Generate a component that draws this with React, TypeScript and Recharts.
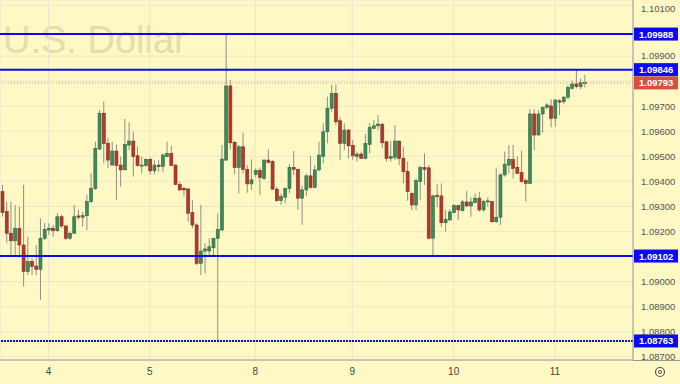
import { ComposedChart, Bar, XAxis, YAxis, CartesianGrid, ReferenceLine } from 'recharts'

// hourly EUR/USD-style candles
const opens = [
  1.09359, 1.09279, 1.09193, 1.09163, 1.09213, 1.09146, 1.0904, 1.0908, 1.09062, 1.09049,
  1.09173, 1.09206, 1.09213, 1.09203, 1.09259, 1.09222, 1.09173, 1.09193, 1.09262, 1.09257,
  1.09263, 1.09319, 1.09372, 1.09529, 1.09672, 1.09552, 1.09465, 1.09521, 1.09465, 1.09446,
  1.09545, 1.09561, 1.09502, 1.09461, 1.09463, 1.09488, 1.09442, 1.09465, 1.09459, 1.09499,
  1.09512, 1.09465, 1.09388, 1.09372, 1.0937, 1.09275, 1.09226, 1.09073, 1.09122, 1.09122,
  1.09135, 1.09173, 1.09206, 1.09485, 1.09781, 1.09556, 1.09455, 1.09538, 1.09448, 1.0939,
  1.09428, 1.09443, 1.09412, 1.09485, 1.09479, 1.09369, 1.09323, 1.09337, 1.09372, 1.09456,
  1.09448, 1.09333, 1.09366, 1.09422, 1.09376, 1.09446, 1.09499, 1.09598, 1.09692, 1.09751,
  1.09642, 1.09552, 1.09605, 1.09544, 1.09499, 1.09509, 1.09492, 1.09548, 1.09612, 1.09622,
  1.09628, 1.09558, 1.09492, 1.09496, 1.09561, 1.09492, 1.09439, 1.09352, 1.09306, 1.09399,
  1.09455, 1.09454, 1.09173, 1.09344, 1.09342, 1.09235, 1.09246, 1.09275, 1.09303, 1.09283,
  1.09318, 1.09302, 1.09315, 1.09333, 1.09286, 1.09318, 1.09319, 1.09239, 1.09257, 1.09426,
  1.09465, 1.09488, 1.09456, 1.09435, 1.09403, 1.09392, 1.09669, 1.09585, 1.09669, 1.09696,
  1.09701, 1.09652, 1.09722, 1.09718, 1.09736, 1.09771, 1.09789, 1.09778, 1.09795,
]
const highs = [
  1.09386, 1.09319, 1.09319, 1.09306, 1.09299, 1.09386, 1.09179, 1.09093, 1.09146, 1.09253,
  1.09233, 1.09233, 1.09226, 1.09273, 1.09266, 1.09226, 1.09199, 1.09306, 1.09286, 1.09279,
  1.09346, 1.09432, 1.09558, 1.09685, 1.09718, 1.09574, 1.09558, 1.09548, 1.09499, 1.09649,
  1.09636, 1.09598, 1.09538, 1.09499, 1.09492, 1.09495, 1.09485, 1.09485, 1.09512, 1.09558,
  1.09542, 1.09468, 1.09399, 1.09379, 1.09372, 1.09326, 1.09233, 1.09306, 1.09153, 1.09173,
  1.09175, 1.09273, 1.09545, 1.09988, 1.09805, 1.09561, 1.09545, 1.09594, 1.09465, 1.09488,
  1.09452, 1.09456, 1.09488, 1.09528, 1.09485, 1.09379, 1.09352, 1.09376, 1.09469, 1.09521,
  1.09452, 1.09383, 1.0943, 1.09502, 1.09465, 1.09558, 1.09632, 1.09738, 1.09785, 1.09785,
  1.09656, 1.09632, 1.09608, 1.09565, 1.09519, 1.09519, 1.09589, 1.09632, 1.09645, 1.09665,
  1.09634, 1.09562, 1.09561, 1.09625, 1.09561, 1.09538, 1.09479, 1.09359, 1.09412, 1.09461,
  1.09512, 1.09465, 1.09346, 1.09388, 1.09392, 1.09286, 1.09289, 1.0931, 1.09306, 1.09326,
  1.09362, 1.09337, 1.09352, 1.09359, 1.09326, 1.09337, 1.09322, 1.09452, 1.09432, 1.09519,
  1.09545, 1.09545, 1.09499, 1.09523, 1.09412, 1.09688, 1.09688, 1.09685, 1.09698, 1.09712,
  1.09728, 1.09728, 1.09728, 1.09741, 1.09785, 1.09802, 1.09846, 1.09811, 1.09825,
]
const lows = [
  1.09259, 1.09153, 1.09099, 1.09099, 1.09097, 1.0898, 1.09026, 1.09026, 1.09026, 1.08927,
  1.09166, 1.09186, 1.09179, 1.09199, 1.09213, 1.09166, 1.09166, 1.0919, 1.09246, 1.09219,
  1.09206, 1.09313, 1.09366, 1.09525, 1.09472, 1.09452, 1.09465, 1.09326, 1.09379, 1.09446,
  1.09525, 1.09419, 1.09459, 1.09432, 1.09459, 1.09426, 1.09428, 1.09439, 1.09439, 1.09499,
  1.09463, 1.09386, 1.09362, 1.09339, 1.09239, 1.09213, 1.09066, 1.09026, 1.09033, 1.09099,
  1.09106, 1.08763, 1.09202, 1.09481, 1.09528, 1.09428, 1.09352, 1.09432, 1.09355, 1.09366,
  1.09416, 1.09346, 1.09406, 1.09472, 1.09366, 1.09319, 1.09306, 1.09313, 1.09352, 1.09426,
  1.09286, 1.09226, 1.09342, 1.09372, 1.09372, 1.09439, 1.09472, 1.09552, 1.09678, 1.09625,
  1.09485, 1.09525, 1.09492, 1.09485, 1.09479, 1.09492, 1.09488, 1.09512, 1.09608, 1.09605,
  1.09532, 1.09479, 1.09479, 1.09485, 1.09465, 1.09392, 1.09323, 1.09286, 1.09286, 1.09326,
  1.09386, 1.09169, 1.09099, 1.09297, 1.09217, 1.09199, 1.09243, 1.09273, 1.09246, 1.09279,
  1.09299, 1.09259, 1.09313, 1.09279, 1.09279, 1.09299, 1.09235, 1.09235, 1.09226, 1.09419,
  1.09432, 1.09412, 1.0943, 1.09395, 1.09319, 1.0939, 1.09525, 1.09585, 1.09594, 1.09688,
  1.09616, 1.09618, 1.09665, 1.09709, 1.09728, 1.09767, 1.09771, 1.09767, 1.09775,
]
const closes = [
  1.09275, 1.09193, 1.09163, 1.09213, 1.09146, 1.0904, 1.0908, 1.0906, 1.09049, 1.09173,
  1.09209, 1.09213, 1.09203, 1.09259, 1.09222, 1.09173, 1.09193, 1.09259, 1.09257, 1.09263,
  1.09319, 1.09372, 1.09532, 1.09672, 1.09552, 1.09485, 1.09521, 1.09463, 1.09446, 1.09548,
  1.09561, 1.09499, 1.09463, 1.09465, 1.09488, 1.09442, 1.09465, 1.09459, 1.09505, 1.09512,
  1.09463, 1.09388, 1.09366, 1.09366, 1.09273, 1.09226, 1.09073, 1.09122, 1.0913, 1.09139,
  1.09173, 1.09209, 1.09489, 1.09781, 1.09554, 1.09455, 1.09538, 1.09448, 1.0939, 1.09406,
  1.09443, 1.09415, 1.09485, 1.09476, 1.09369, 1.09323, 1.09339, 1.09372, 1.09456, 1.09448,
  1.09333, 1.09366, 1.09422, 1.09376, 1.09446, 1.09505, 1.09598, 1.09692, 1.09751, 1.09638,
  1.09552, 1.09605, 1.09542, 1.09502, 1.09509, 1.09492, 1.09552, 1.09616, 1.09622, 1.09629,
  1.09554, 1.09492, 1.09499, 1.09561, 1.09492, 1.09439, 1.09359, 1.09306, 1.09403, 1.09455,
  1.09448, 1.09173, 1.09342, 1.09339, 1.09235, 1.09249, 1.09278, 1.09303, 1.09286, 1.09318,
  1.09302, 1.09318, 1.09333, 1.09286, 1.09319, 1.09322, 1.09239, 1.09257, 1.09426, 1.09469,
  1.09488, 1.09452, 1.09432, 1.09399, 1.09392, 1.09669, 1.09585, 1.09669, 1.09696, 1.09705,
  1.09652, 1.09725, 1.09716, 1.09736, 1.09775, 1.09789, 1.09778, 1.09794, 1.09793,
]

const dayLabels = ['4', '5', '8', '9', '10', '11']
const dayStarts = [11, 35, 60, 83, 107, 131]
const priceTicks = [
  1.087, 1.088, 1.089, 1.09, 1.091, 1.092, 1.093, 1.094, 1.095, 1.096, 1.097, 1.098, 1.099, 1.1, 1.101,
]
const levels = [1.09988, 1.09846, 1.09102, 1.08763]
const lastPrice = 1.09793
const emptySlots = 11

const BG = '#fef8c4'
const FONT = '"Liberation Sans", Arial, sans-serif'
const AXIS = '#9a9a90'

const data = [
  ...opens.map((o, i) => ({ i, o, h: highs[i], l: lows[i], c: closes[i] })),
  ...Array.from({ length: emptySlots }, (_, k) => ({ i: opens.length + k })),
]

// tick labels that sit under a price tag are covered by it in the original
const tagged = [...levels, lastPrice]
const isCovered = (v: number) => tagged.some((t) => Math.abs(t - v) < 0.00025)

function Candle(props: any) {
  const { x, y, width, height, payload } = props
  if (!payload || payload.h == null) return null
  const { o, h, l, c } = payload
  const top = Math.min(y, y + height)
  const hgt = Math.abs(height)
  const span = h - l || 1e-9
  const py = (v: number) => top + ((h - v) / span) * hgt
  const up = c >= o
  const bTop = py(Math.max(o, c))
  const bBot = py(Math.min(o, c))
  const cx = x + width / 2
  return (
    <g>
      <line x1={cx} x2={cx} y1={top} y2={top + hgt} stroke="#8f8f86" strokeWidth={1} />
      <rect
        x={x}
        y={bTop}
        width={width}
        height={Math.max(bBot - bTop, 1)}
        fill={up ? '#3f8a5b' : '#b2392c'}
        stroke={up ? '#2d6843' : '#842a20'}
        strokeWidth={0.6}
      />
    </g>
  )
}

function PriceTick(props: any) {
  const { x, y, payload } = props
  if (isCovered(payload.value)) return null
  return (
    <text x={x} y={y} dy="0.35em" textAnchor="start" fill="#555" fontSize={9.5} fontFamily={FONT}>
      {Number(payload.value).toFixed(5)}
    </text>
  )
}

const tag = (fill: string, text: string) => (p: any) => {
  const vb = p.viewBox
  const x = vb.x + vb.width + 1
  return (
    <g>
      <rect x={x} y={vb.y - 6.5} width={44} height={13} fill={fill} />
      <text x={x + 5} y={vb.y + 3.5} fill="#fff" fontSize={9.5} fontWeight="bold" fontFamily={FONT}>
        {text}
      </text>
    </g>
  )
}

export default function App() {
  return (
    <div style={{ position: 'absolute', left: 0, top: 0, width: 680, height: 384, background: BG }}>
      <svg width={680} height={384} style={{ position: 'absolute', left: 0, top: 0 }}>
        <text x={3} y={53} fontSize={38} fontFamily={FONT} fill="#e4dead">
          U.S. Dollar
        </text>
      </svg>
      <div style={{ position: 'absolute', left: 0, top: 0 }}>
        <ComposedChart
          width={680}
          height={384}
          data={data}
          margin={{ top: 0, right: 0, bottom: 0, left: 0 }}
          barSize={3}
        >
          <CartesianGrid stroke="#ebe7cd" strokeWidth={1} />
          <XAxis
            dataKey="i"
            type="category"
            ticks={dayStarts}
            interval={0}
            tickFormatter={(v) => dayLabels[dayStarts.indexOf(v)] ?? ''}
            tickLine={false}
            axisLine={{ stroke: AXIS }}
            tick={{ fill: '#444', fontSize: 10, fontFamily: FONT }}
            height={24}
          />
          <YAxis
            orientation="right"
            type="number"
            domain={[1.08687, 1.10124]}
            allowDataOverflow
            ticks={priceTicks}
            tickLine={false}
            axisLine={{ stroke: AXIS }}
            tick={PriceTick}
            width={47}
          />
          <ReferenceLine
            y={lastPrice}
            stroke="#e8917a"
            strokeDasharray="1 2"
            label={tag('#d9503f', lastPrice.toFixed(5))}
          />
          {levels.map((v, k) => (
            <ReferenceLine
              key={v}
              y={v}
              stroke="#0a0af5"
              strokeWidth={2}
              strokeDasharray={k === levels.length - 1 ? '2 1' : undefined}
              label={tag('#0a0af5', v.toFixed(5))}
            />
          ))}
          <Bar
            dataKey={(d: any) => (d.h == null ? null : [d.l, d.h])}
            shape={Candle}
            isAnimationActive={false}
          />
        </ComposedChart>
      </div>
      <svg width={680} height={384} style={{ position: 'absolute', left: 0, top: 0, pointerEvents: 'none' }}>
        <line x1={633} x2={680} y1={360.5} y2={360.5} stroke={AXIS} />
        <circle cx={660} cy={372} r={4.5} fill="none" stroke="#555" strokeWidth={1.2} />
        <circle cx={660} cy={372} r={1.6} fill="none" stroke="#555" strokeWidth={1} />
      </svg>
    </div>
  )
}
